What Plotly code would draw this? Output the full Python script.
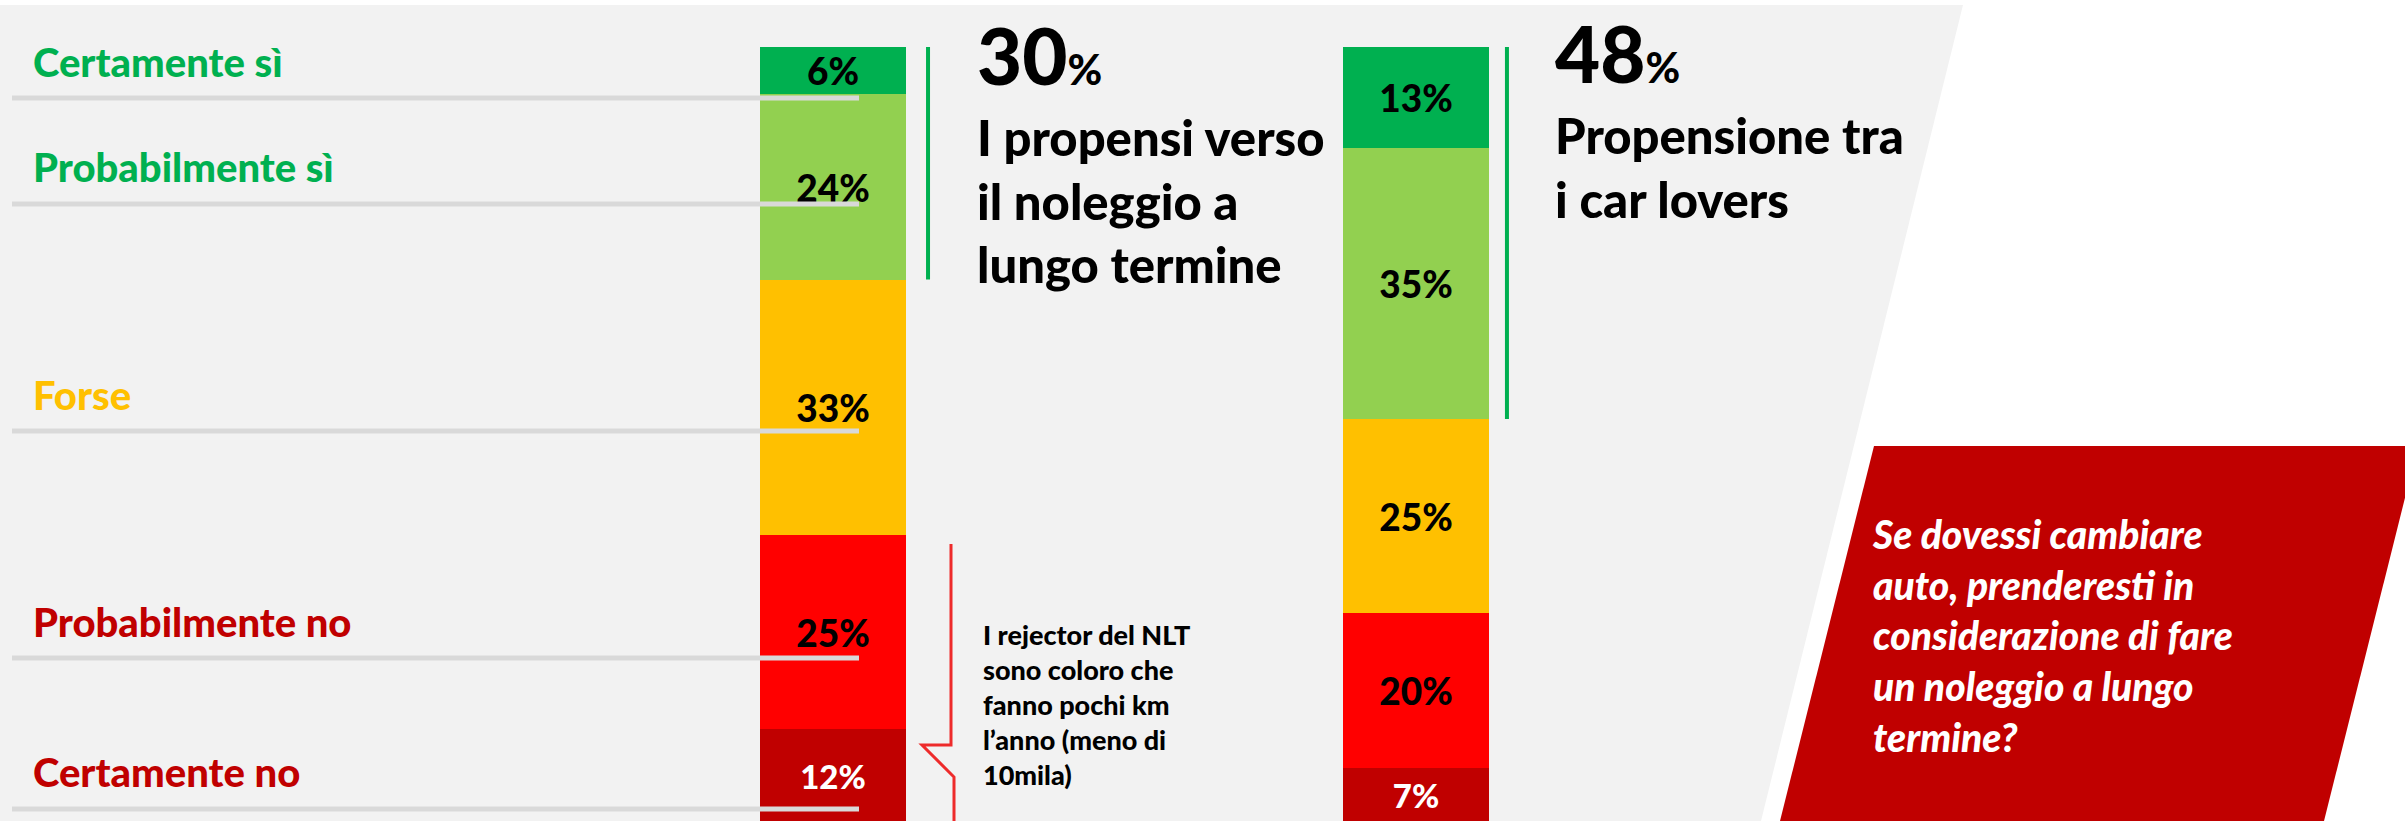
import plotly.graph_objects as go

# ---------------- data ----------------
categories = ["Certamente sì", "Probabilmente sì", "Forse", "Probabilmente no", "Certamente no"]
groups = ["Totale", "Car lovers"]
totale = [6, 24, 33, 25, 12]
car_lovers = [13, 35, 25, 20, 7]

# ---------------- styles ----------------
bar_colors = ["#00b050", "#92d050", "#ffc000", "#ff0000", "#c00000"]
label_colors = ["#00b050", "#00b050", "#ffc000", "#c00000", "#c00000"]
text_colors = ["black", "black", "black", "black", "white"]
text_sizes = [37, 37, 37, 37, 33]
FONT = "Lato"
WEIGHT = 900

W, H = 2405, 821


def px(x):
    return x / W


def py(y):
    return 1 - y / H


fig = go.Figure()
for i, cat in enumerate(categories):
    fig.add_trace(go.Bar(
        x=[0, 1],
        y=[totale[i], car_lovers[i]],
        name=cat,
        width=0.2504,
        marker=dict(color=bar_colors[i], line=dict(width=0)),
        texttemplate="%{y}%",
        textposition="inside",
        insidetextanchor="middle",
        constraintext="none",
        textangle=0,
        textfont=dict(family=FONT, size=text_sizes[i], color=text_colors[i], weight=WEIGHT),
        hoverinfo="skip",
        showlegend=False,
    ))

shapes = []
# grey slanted background
shapes.append(dict(
    type="path", xref="paper", yref="paper", layer="below",
    path=f"M {px(0)},{py(5)} L {px(1963)},{py(5)} L {px(1761)},{py(821)} L {px(0)},{py(821)} Z",
    fillcolor="#f2f2f2", line=dict(width=0),
))
# red question box
shapes.append(dict(
    type="path", xref="paper", yref="paper", layer="below",
    path=f"M {px(1874)},{py(446)} L {px(2418)},{py(446)} L {px(2324)},{py(821)} L {px(1780)},{py(821)} Z",
    fillcolor="#c00000", line=dict(width=0),
))
# grey leader lines under labels
label_line_y = [98, 204, 431, 658, 809]
for yy in label_line_y:
    shapes.append(dict(
        type="line", xref="paper", yref="paper", layer="above",
        x0=px(12), x1=px(859), y0=py(yy), y1=py(yy),
        line=dict(color="#d9d9d9", width=5),
    ))
# green brackets spanning the "propensi" share (top two answers)
prop_tot = totale[0] + totale[1]
prop_cl = car_lovers[0] + car_lovers[1]
shapes.append(dict(type="line", xref="x", yref="y", x0=0.163, x1=0.163, y0=0, y1=prop_tot,
                   line=dict(color="#00b050", width=4)))
shapes.append(dict(type="line", xref="x", yref="y", x0=1.156, x1=1.156, y0=0, y1=prop_cl,
                   line=dict(color="#00b050", width=4)))
# red bracket for rejectors
shapes.append(dict(
    type="path", xref="paper", yref="paper", layer="above",
    path=(f"M {px(951)},{py(544)} L {px(951)},{py(745)} L {px(922)},{py(745)} "
          f"L {px(954)},{py(777)} L {px(954)},{py(823)}"),
    line=dict(color="#ee2b2b", width=3),
))

annotations = []
label_y = [62, 167, 395, 622, 772]
for cat, col, yy in zip(categories, label_colors, label_y):
    annotations.append(dict(
        text=cat, xref="paper", yref="paper", x=px(31), y=py(yy),
        xanchor="left", yanchor="middle", showarrow=False,
        font=dict(family=FONT, size=40, color=col, weight=WEIGHT),
    ))

annotations.append(dict(
    text=f"{prop_tot}<span style='font-size:42px'>%</span>",
    xref="paper", yref="paper", x=px(975), y=py(55), xanchor="left", yanchor="middle",
    showarrow=False, font=dict(family=FONT, size=78, color="black", weight=WEIGHT),
))
annotations.append(dict(
    text="I propensi verso<br>il noleggio a<br>lungo termine",
    xref="paper", yref="paper", x=px(975), y=py(200), xanchor="left", yanchor="middle",
    align="left", showarrow=False, font=dict(family=FONT, size=49, color="black", weight=WEIGHT),
))
annotations.append(dict(
    text=f"{prop_cl}<span style='font-size:42px'>%</span>",
    xref="paper", yref="paper", x=px(1553), y=py(53), xanchor="left", yanchor="middle",
    showarrow=False, font=dict(family=FONT, size=78, color="black", weight=WEIGHT),
))
annotations.append(dict(
    text="Propensione tra<br>i car lovers",
    xref="paper", yref="paper", x=px(1553), y=py(167), xanchor="left", yanchor="middle",
    align="left", showarrow=False, font=dict(family=FONT, size=49, color="black", weight=WEIGHT),
))
annotations.append(dict(
    text="I rejector del NLT<br>sono coloro che<br>fanno pochi km<br>l’anno (meno di<br>10mila)",
    xref="paper", yref="paper", x=px(981), y=py(704), xanchor="left", yanchor="middle",
    align="left", showarrow=False, font=dict(family=FONT, size=27, color="black", weight=WEIGHT),
))
annotations.append(dict(
    text=("<i>Se dovessi cambiare<br>auto, prenderesti in<br>considerazione di fare<br>"
          "un noleggio a lungo<br>termine?</i>"),
    xref="paper", yref="paper", x=px(1870), y=py(635), xanchor="left", yanchor="middle",
    align="left", showarrow=False, font=dict(family=FONT, size=39, color="white", weight=WEIGHT),
))

fig.update_layout(
    width=W, height=H,
    margin=dict(l=0, r=0, t=0, b=0),
    paper_bgcolor="white",
    plot_bgcolor="rgba(0,0,0,0)",
    barmode="stack",
    bargap=0,
    xaxis=dict(visible=False, range=[-833 / 583, (W - 833) / 583], fixedrange=True),
    yaxis=dict(visible=False, range=[(H - 47) / 7.75, -47 / 7.75], fixedrange=True),
    shapes=shapes,
    annotations=annotations,
    showlegend=False,
)

fig.write_html("out.html", config={"displayModeBar": False},
               post_script="document.body.style.margin='0px';")
